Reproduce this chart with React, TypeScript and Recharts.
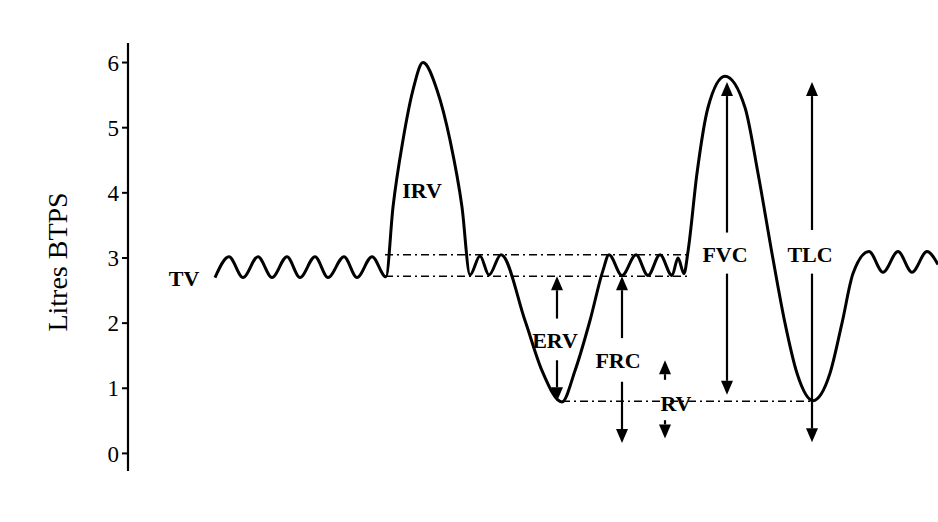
import React from "react";
import { LineChart, Line, XAxis, YAxis, ReferenceLine, ReferenceDot } from "recharts";

// spirometer trace: time (arbitrary units) and lung volume (litres)
const times = [
  215, 229, 243, 258, 272, 287, 300, 315, 328, 344, 357, 372, 386,
  393, 403, 413, 423, 437, 450, 462, 470,
  480, 489, 501,
  525, 542, 562, 575, 590, 603, 609,
  622, 636, 648, 660, 672, 678, 684,
  688, 697, 708, 725, 745, 758, 772, 785, 797, 813, 830, 842, 853, 869,
  883, 898, 912, 927, 938,
];
const volumes = [
  2.7, 3.02, 2.7, 3.02, 2.7, 3.02, 2.7, 3.02, 2.7, 3.02, 2.7, 3.02, 2.71,
  3.78, 4.81, 5.58, 6.0, 5.58, 4.81, 3.78, 2.74,
  3.03, 2.74, 3.05,
  2.04, 1.27, 0.79, 1.27, 2.04, 2.81, 3.05,
  2.73, 3.05, 2.73, 3.05, 2.73, 3.0, 2.76,
  3.1, 4.3, 5.31, 5.79, 5.31, 4.3, 3.07, 2.0, 1.23, 0.81, 1.23, 2.0, 2.76, 3.1,
  2.78, 3.1, 2.78, 3.1, 2.9,
];

const yTicks = [0, 1, 2, 3, 4, 5, 6];

// dash-dot guide lines
const guideLevels = [3.05, 2.72, 0.8];
const guideStarts = [385, 385, 562];
const guideEnds = [687, 687, 813];

// arrows: time, tail volume, tip volume
const arrowT = [557, 557, 622, 622, 665, 665, 727, 727, 812, 812];
const arrowFrom = [2.07, 1.43, 1.77, 1.1, 1.13, 0.51, 3.39, 2.76, 3.43, 2.76];
const arrowTo = [2.72, 0.8, 2.72, 0.16, 1.43, 0.23, 5.7, 0.9, 5.7, 0.17];

// text labels
const labelNames = ["TV", "IRV", "ERV", "FRC", "RV", "FVC", "TLC"];
const labelT = [184, 422, 555, 618, 676, 725, 810];
const labelV = [2.68, 4.03, 1.74, 1.42, 0.77, 3.06, 3.06];

const data = times.map((t, i) => ({ t, v: volumes[i] }));

const FONT = '"Liberation Serif", "Times New Roman", serif';

const ArrowShape = (p: any) => {
  const { x1, y1, x2, y2 } = p;
  const dir = y2 < y1 ? -1 : 1;
  const len = 14;
  const half = 6;
  return (
    <g>
      <line x1={x1} y1={y1} x2={x2} y2={y2 - dir * len} stroke="#000" strokeWidth={2.2} />
      <polygon
        points={`${x2},${y2} ${x2 - half},${y2 - dir * len} ${x2 + half},${y2 - dir * len}`}
        fill="#000"
      />
    </g>
  );
};

const textShape = (text: string) => (p: any) => (
  <text
    x={p.cx}
    y={p.cy}
    textAnchor="middle"
    dominantBaseline="central"
    fontFamily={FONT}
    fontSize={22}
    fontWeight="bold"
    fill="#000"
  >
    {text}
  </text>
);

const AxisTitle = (props: any) => {
  const vb = props.viewBox || { x: 0, y: 43, height: 428 };
  const x = vb.x + 57;
  const y = vb.y + vb.height / 2 + 5;
  return (
    <text
      x={x}
      y={y}
      transform={`rotate(-90, ${x}, ${y})`}
      textAnchor="middle"
      dominantBaseline="central"
      fontFamily={FONT}
      fontSize={28}
      fill="#000"
    >
      Litres BTPS
    </text>
  );
};

export default function App() {
  return (
    <div style={{ position: "absolute", left: 0, top: 0, width: 938, height: 522, background: "#fff" }}>
      <LineChart width={938} height={522} data={data} margin={{ top: 43, right: 0, bottom: 51, left: 0 }}>
        <XAxis dataKey="t" type="number" domain={[128, 938]} hide allowDataOverflow />
        <YAxis
          type="number"
          domain={[-0.27, 6.3]}
          ticks={yTicks}
          width={128}
          allowDataOverflow
          axisLine={{ stroke: "#000", strokeWidth: 2.2 }}
          tickLine={{ stroke: "#000", strokeWidth: 2 }}
          tickSize={6}
          tickMargin={3}
          tick={{ fill: "#000", fontSize: 23, fontFamily: FONT }}
          label={{ content: AxisTitle }}
        />
        {guideLevels.map((lv, i) => (
          <ReferenceLine
            key={"g" + i}
            segment={[
              { x: guideStarts[i], y: lv },
              { x: guideEnds[i], y: lv },
            ]}
            stroke="#000"
            strokeWidth={1.6}
            strokeDasharray="8 4 2 4"
          />
        ))}
        {arrowT.map((t, i) => (
          <ReferenceLine
            key={"a" + i}
            segment={[
              { x: t, y: arrowFrom[i] },
              { x: t, y: arrowTo[i] },
            ]}
            shape={ArrowShape}
          />
        ))}
        <Line
          type="monotone"
          dataKey="v"
          stroke="#000"
          strokeWidth={3}
          dot={false}
          activeDot={false}
          isAnimationActive={false}
        />
        {labelNames.map((name, i) => (
          <ReferenceDot key={"l" + i} x={labelT[i]} y={labelV[i]} r={1} shape={textShape(name)} />
        ))}
      </LineChart>
    </div>
  );
}
